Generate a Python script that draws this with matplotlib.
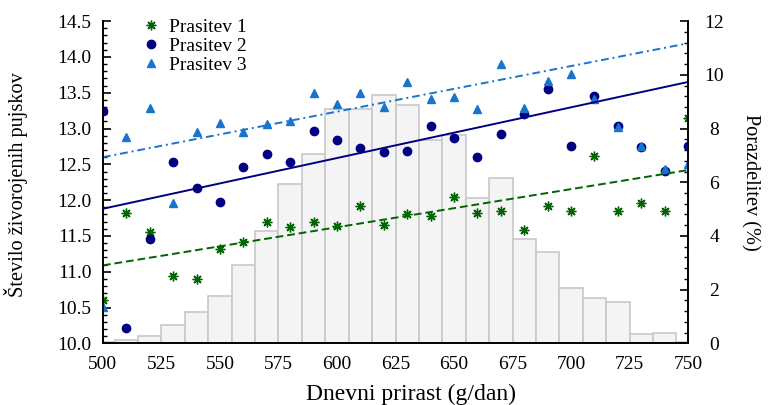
import numpy as np
import matplotlib
matplotlib.use('Agg')
import matplotlib.pyplot as plt
from matplotlib.ticker import MultipleLocator, FormatStrFormatter

plt.rcParams['font.family'] = ['Liberation Serif', 'DejaVu Serif']
plt.rcParams['font.size'] = 14

# daily gain (g/day)
gain = [500, 510, 520, 530, 540, 550, 560, 570, 580, 590, 600, 610, 620,
        630, 640, 650, 660, 670, 680, 690, 700, 710, 720, 730, 740, 750]

# born alive per litter
parity1 = [10.60, 11.82, 11.55, 10.94, 10.90, 11.32, 11.42, 11.70, 11.63,
           11.70, 11.64, 11.92, 11.65, 11.80, 11.78, 12.05, 11.82, 11.85,
           11.58, 11.92, 11.85, 12.62, 11.85, 11.96, 11.85, 13.14]
parity2 = [13.25, 10.22, 11.46, 12.53, 12.17, 11.97, 12.46, 12.65, 12.53,
           12.97, 12.84, 12.73, 12.67, 12.69, 13.03, 12.87, 12.60, 12.93,
           13.20, 13.55, 12.75, 13.46, 13.03, 12.74, 12.41, 12.75]
parity3 = [10.51, 12.88, 13.28, 11.96, 12.95, 13.08, 12.95, 13.06, 13.11,
           13.50, 13.34, 13.49, 13.30, 13.65, 13.41, 13.44, 13.27, 13.90,
           13.28, 13.67, 13.76, 13.41, 13.02, 12.75, 12.44, 12.51]

# distribution (%)
share = [0.06, 0.14, 0.27, 0.67, 1.16, 1.76, 2.91, 4.17, 5.94, 7.04, 8.73,
         8.73, 9.25, 8.86, 7.58, 7.75, 5.40, 6.15, 3.88, 3.41, 2.05, 1.71,
         1.55, 0.35, 0.40, 0.06]

# trend lines (values at 500 and 750)
trend_x = [500, 750]
trend1 = [11.09, 12.42]
trend2 = [11.88, 13.65]
trend3 = [12.60, 14.19]

green = '#006400'
navy = '#000080'
blue = '#1874cd'

fig = plt.figure(figsize=(7.68, 4.05), dpi=100)
ax = fig.add_axes([0.134, 0.152, 0.762, 0.796])
ax2 = ax.twinx()

# histogram behind the points
ax2.bar(gain, share, width=10, color='#f4f4f4', edgecolor='#c8c8c8', linewidth=1.2)
ax2.set_ylim(0, 12)
ax2.yaxis.set_major_locator(MultipleLocator(2))
ax2.yaxis.set_minor_locator(MultipleLocator(0.4))
ax2.set_ylabel('Porazdelitev (%)', rotation=270, fontsize=14.6)
ax2.yaxis.label.set_va('bottom')
ax2.yaxis.set_label_coords(1.089, 0.501)

ax.set_zorder(ax2.get_zorder() + 1)
ax.patch.set_visible(False)

ax.plot(gain, parity1, linestyle='none', marker=(8, 2, 0), markersize=7,
        markeredgewidth=1.0, color=green, label='Prasitev 1')
ax.plot(gain, parity2, linestyle='none', marker='o', markersize=6,
        color=navy, label='Prasitev 2')
ax.plot(gain, parity3, linestyle='none', marker='^', markersize=5.5,
        color=blue, label='Prasitev 3')

ax.plot(trend_x, trend1, color=green, linewidth=1.4, linestyle=(0, (4, 2)))
ax.plot(trend_x, trend2, color=navy, linewidth=1.4, linestyle='-')
ax.plot(trend_x, trend3, color=blue, linewidth=1.4, linestyle=(0, (4, 2, 1, 2)))

ax.set_xlim(500, 750)
ax.set_ylim(10, 14.5)
ax.xaxis.set_major_locator(MultipleLocator(25))
ax.yaxis.set_major_locator(MultipleLocator(0.5))
ax.yaxis.set_minor_locator(MultipleLocator(0.1))
ax.yaxis.set_major_formatter(FormatStrFormatter('%.1f'))

ax.set_xlabel('Dnevni prirast (g/dan)', fontsize=17)
ax.xaxis.label.set_va('baseline')
ax.xaxis.set_label_coords(0.5265, -0.176)
ax.set_ylabel('Število živorojenih pujskov', fontsize=14.7)
ax.yaxis.set_label_coords(-0.128, 0.494)

for a in (ax, ax2):
    a.spines['top'].set_visible(False)
    for s in ('left', 'right', 'bottom'):
        a.spines[s].set_linewidth(1.2)
ax.tick_params(axis='y', which='major', direction='in', length=6, width=1.2, pad=8.4)
ax.tick_params(axis='y', which='minor', direction='in', length=3, width=1)
ax.tick_params(axis='x', length=0, pad=9)
ax2.tick_params(axis='y', which='major', direction='in', length=6, width=1.2, pad=18.7)
ax2.tick_params(axis='y', which='minor', direction='in', length=3, width=1)
for lbl in ax2.get_yticklabels():
    lbl.set_ha('center')

ax.legend(loc='upper left', bbox_to_anchor=(0.032, 1.063), frameon=False,
          handletextpad=0.33, labelspacing=0.08, handlelength=1.2, fontsize=14)

fig.savefig('out.png', dpi=100)
